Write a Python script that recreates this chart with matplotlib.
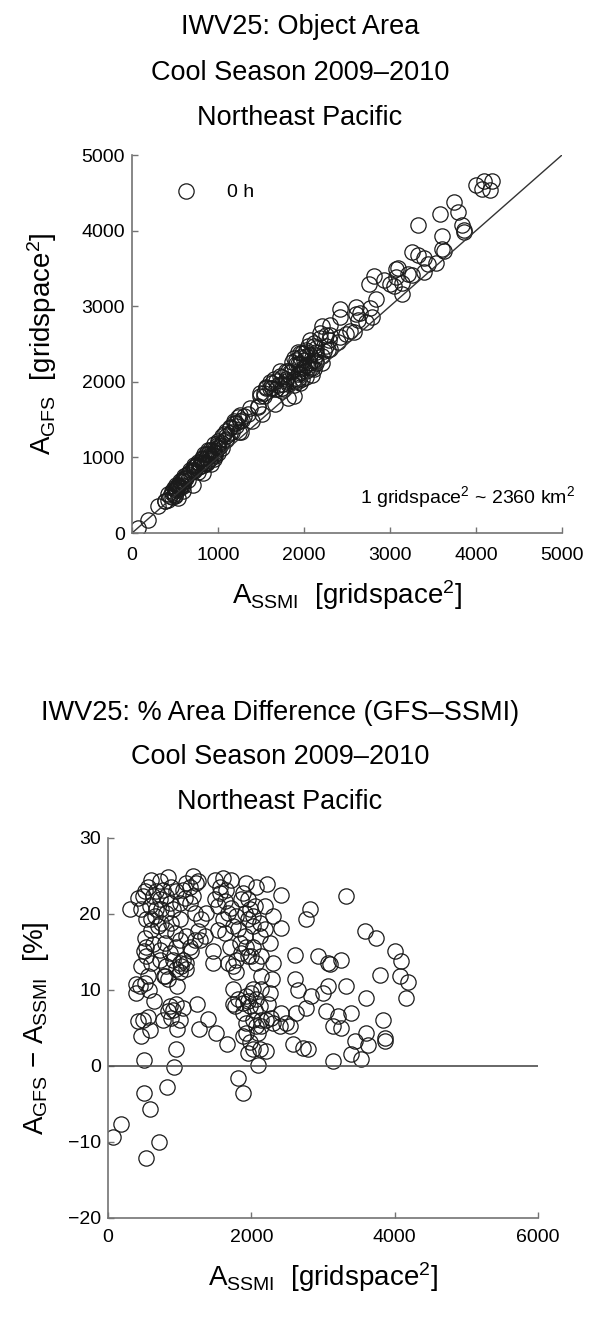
import numpy as np
import matplotlib.pyplot as plt

plt.rcParams['font.family'] = ['Liberation Sans Narrow', 'Liberation Sans', 'DejaVu Sans']
plt.rcParams['mathtext.default'] = 'regular'

# SSMI object area [gridspace^2] and % area difference (GFS-SSMI)
ssmi = [302, 70, 186, 535, 712, 502, 590, 823, 921, 502, 953, 465, 590, 419, 967, 1047,
        1242, 1270, 1512, 1395, 1665, 386, 386, 465, 502, 512, 558, 577, 647, 837, 874, 767,
        777, 837, 963, 953, 1000, 1093, 1163, 1093, 1256, 1047, 860, 721, 605, 535, 651, 488,
        581, 721, 860, 814, 744, 884, 1000, 605, 721, 837, 953, 1047, 1140, 1256, 884, 674,
        512, 1000, 1140, 1372, 1349, 1465, 1465, 1488, 1605, 1721, 1488, 1535, 1628, 1721, 1605, 1744,
        1698, 1674, 1791, 1744, 1767, 1930, 1953, 2047, 1953, 2023, 1907, 2023, 1860, 2000, 2140, 2070,
        2186, 2302, 2214, 2419, 2419, 2302, 2293, 2140, 2023, 1930, 2070, 1977, 1884, 2023, 2233, 2209,
        2302, 2419, 2140, 1930, 1977, 1953, 2119, 2209, 2093, 1814, 1884, 2605, 2605, 2651, 2628, 2535,
        2581, 2721, 2791, 2767, 2837, 2758, 2814, 2930, 3070, 3093, 3256, 3000, 3070, 3047, 3140, 3209,
        3256, 3326, 3395, 3140, 3326, 3395, 3442, 3535, 3605, 3628, 3605, 3581, 3744, 3791, 3837, 3860,
        3860, 4000, 4093, 4070, 4186, 4163,
        419, 465, 558, 628, 767, 814, 907, 674, 744, 605, 698, 814, 930, 1000, 953, 791,
        628, 535, 535, 605, 721, 814, 907, 1000, 1093, 1023, 791, 442, 512, 488, 558, 860,
        907, 953, 1000, 1186, 1233, 1093, 1070, 1186, 1209, 1302, 1279, 1209, 1140, 1558, 1651, 1558,
        1674, 1535, 1628, 1791, 1860, 1884, 1814, 1837, 1930, 1953, 1791, 1744, 2116, 2116, 2186, 2256,
        2023, 1977, 1907, 2070, 2000, 1953, 2047, 2116, 1884, 2140, 2070, 1930, 2093, 1884, 2023, 1744,
        1814, 2395, 2279, 2488, 2256, 2140]
pct = [20.6, -9.3, -7.7, -12.1, -10.0, -3.5, -5.7, -2.8, -0.1, 0.8, 2.2, 4.0, 4.7, 5.9, 4.9, 7.6,
       8.1, 4.9, 4.3, 6.2, 2.9, 9.6, 10.8, 13.1, 15.1, 16.8, 11.8, 10.0, 8.5, 7.2, 6.3, 6.1,
       11.8, 11.4, 10.5, 12.7, 13.6, 12.7, 15.1, 17.1, 17.7, 14.0, 14.9, 15.3, 17.9, 19.3, 19.7, 22.3,
       21.0, 21.9, 21.4, 20.1, 18.8, 18.8, 19.3, 24.5, 24.3, 24.9, 23.0, 23.2, 23.6, 24.3, 23.6, 23.0,
       23.0, 21.4, 21.4, 20.1, 17.1, 15.1, 13.6, 24.5, 24.7, 24.5, 21.9, 21.0, 21.7, 20.8, 19.3, 18.4,
       15.7, 13.6, 12.3, 10.1, 7.9, 24.1, 21.9, 21.0, 19.3, 18.4, 17.1, 15.7, 14.9, 14.4, 14.4, 13.6,
       21.0, 19.7, 23.9, 22.5, 18.2, 13.6, 11.4, 11.8, 10.1, 9.2, 8.8, 7.9, 7.0, 6.1, 8.1, 6.1,
       5.7, 7.0, 5.3, 4.4, 3.1, 1.7, 2.2, 2.0, 0.1, -1.6, -3.6, 14.6, 11.4, 10.0, 7.0, 5.3,
       2.9, 2.4, 2.2, 7.6, 9.2, 19.3, 20.6, 14.4, 13.6, 13.4, 14.0, 9.6, 10.5, 7.2, 5.3, 6.6,
       5.0, 10.5, 7.0, 0.6, 22.4, 1.6, 3.3, 0.9, 4.3, 2.8, 8.9, 17.7, 16.8, 12.0, 6.1, 3.7,
       3.3, 15.1, 13.8, 11.8, 11.1, 8.9,
       22.1, 20.6, 23.6, 22.3, 23.2, 22.3, 20.6, 20.6, 20.6, 19.3, 18.4, 17.9, 17.5, 16.6, 15.7, 16.2,
       16.0, 15.7, 14.4, 13.6, 14.0, 13.1, 14.0, 12.3, 13.6, 13.1, 11.8, 10.5, 10.9, 6.1, 6.5, 7.9,
       7.4, 8.1, 6.1, 25.0, 24.1, 24.1, 22.1, 22.3, 20.1, 19.3, 16.6, 16.6, 15.7, 23.6, 23.2, 22.8,
       20.1, 17.9, 17.5, 19.7, 21.9, 22.8, 18.0, 16.2, 15.7, 14.4, 14.0, 13.1, 18.8, 17.1, 18.0, 16.2,
       19.7, 20.6, 20.1, 23.6, 9.6, 8.5, 7.4, 7.9, 8.3, 6.1, 5.3, 5.7, 4.4, 3.9, 2.2, 8.1,
       8.8, 5.3, 6.3, 5.7, 9.6, 10.1]

ssmi = np.array(ssmi, dtype=float)
pct = np.array(pct)
# the GFS area follows from the SSMI area and the % difference
gfs = ssmi * (1 + pct / 100.0)

top_ticks = [0, 1000, 2000, 3000, 4000, 5000]
bot_xticks = [0, 2000, 4000, 6000]
bot_yticks = [-20, -10, 0, 10, 20, 30]

fig = plt.figure(figsize=(6.03, 13.33), dpi=100)
ax1 = fig.add_axes([0.2189, 0.6001, 0.7131, 0.2836])
ax2 = fig.add_axes([0.1791, 0.0863, 0.7131, 0.2851])

mk = dict(ls='none', marker='o', ms=11, mfc='none', mec='0.1', mew=0.9)

for ax in (ax1, ax2):
    for s in ('top', 'right'):
        ax.spines[s].set_visible(False)
    for s in ('left', 'bottom'):
        ax.spines[s].set_color('0.45')
        ax.spines[s].set_linewidth(1.2)
    ax.tick_params(direction='in', length=4, width=1, color='0.45', labelsize=14)
    ax.tick_params(axis='y', pad=5)

ax1.tick_params(axis='x', pad=10)
ax2.tick_params(axis='x', pad=8)

# upper panel
ax1.plot(ssmi, gfs, label='0 h', **mk)
ax1.plot([0, 5000], [0, 5000], color='0.2', lw=1.0)
ax1.set_xlim(0, 5000)
ax1.set_ylim(0, 5000)
ax1.set_xticks(top_ticks)
ax1.set_yticks(top_ticks)
ax1.set_xlabel(r'A$_{SSMI}$  [gridspace$^2$]', fontsize=20, labelpad=10)
ax1.set_ylabel(r'A$_{GFS}$  [gridspace$^2$]', fontsize=20, labelpad=16)
ax1.text(1.03, 0.095, r'1 gridspace$^2$ ~ 2360 km$^2$', transform=ax1.transAxes,
         ha='right', va='center', fontsize=14)
ax1.legend(loc='upper left', bbox_to_anchor=(0.035, 0.97), frameon=False, numpoints=1,
           handlelength=2.2, handletextpad=1.0, fontsize=14)

# lower panel
ax2.plot(ssmi, pct, **mk)
ax2.plot([0, 6000], [0, 0], color='0.3', lw=1.2)
ax2.set_xlim(0, 6000)
ax2.set_ylim(-20, 30)
ax2.set_xticks(bot_xticks)
ax2.set_yticks(bot_yticks)
ax2.set_xlabel(r'A$_{SSMI}$  [gridspace$^2$]', fontsize=20, labelpad=10)
ax2.set_ylabel(r'A$_{GFS}$ $-$ A$_{SSMI}$  [%]', fontsize=20, labelpad=12)

top_title = ['IWV25: Object Area', 'Cool Season 2009\u20132010', 'Northeast Pacific']
bot_title = ['IWV25: % Area Difference (GFS\u2013SSMI)', 'Cool Season 2009\u20132010', 'Northeast Pacific']
for i, line in enumerate(top_title):
    fig.text(300 / 603, 1 - (27 + 45.5 * i) / 1333, line, ha='center', va='center', fontsize=19.5)
for i, line in enumerate(bot_title):
    fig.text(280 / 603, 1 - (713 + 44.5 * i) / 1333, line, ha='center', va='center', fontsize=19.5)

fig.savefig('out.png', dpi=100)
